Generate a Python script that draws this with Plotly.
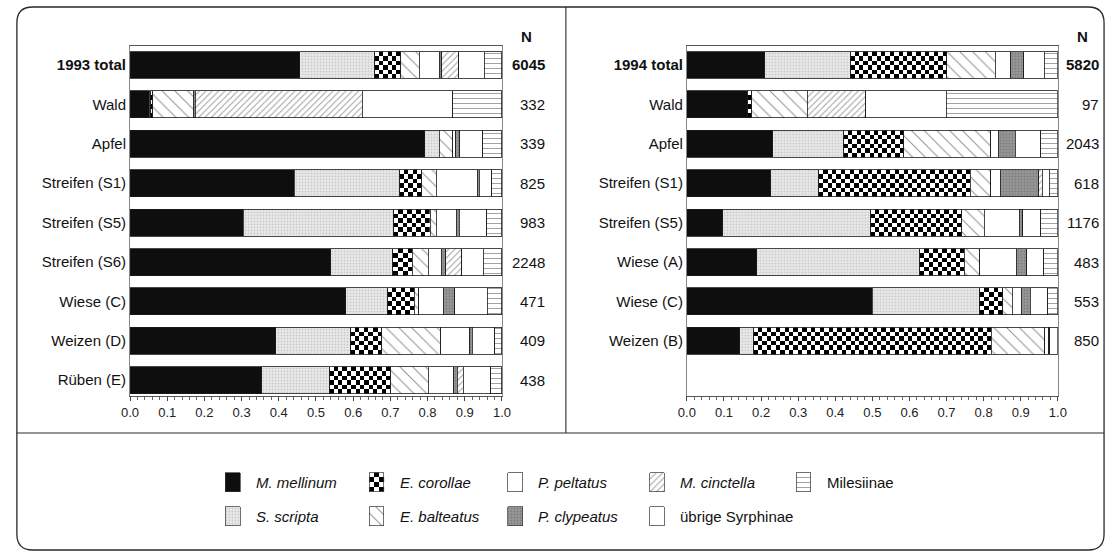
import plotly.graph_objects as go

# ---------------- data ----------------
species = ["M. mellinum", "S. scripta", "E. corollae", "E. balteatus", "P. peltatus",
           "P. clypeatus", "M. cinctella", "übrige Syrphinae", "Milesiinae"]

cats_1993 = ["1993 total", "Wald", "Apfel", "Streifen (S1)", "Streifen (S5)",
             "Streifen (S6)", "Wiese (C)", "Weizen (D)", "Rüben (E)"]
n_1993 = [6045, 332, 339, 825, 983, 2248, 471, 409, 438]

cats_1994 = ["1994 total", "Wald", "Apfel", "Streifen (S1)", "Streifen (S5)",
             "Wiese (A)", "Wiese (C)", "Weizen (B)"]
n_1994 = [5820, 97, 2043, 618, 1176, 483, 553, 850]

# shares (fraction of N) per species, one value per category row
mellinum_1993   = [0.456, 0.052, 0.792, 0.442, 0.305, 0.540, 0.580, 0.392, 0.354]
scripta_1993    = [0.202, 0.003, 0.040, 0.283, 0.404, 0.166, 0.112, 0.200, 0.182]
corollae_1993   = [0.070, 0.006, 0.000, 0.060, 0.098, 0.053, 0.072, 0.085, 0.165]
balteatus_1993  = [0.050, 0.109, 0.036, 0.038, 0.017, 0.043, 0.012, 0.158, 0.101]
peltatus_1993   = [0.053, 0.000, 0.008, 0.111, 0.053, 0.035, 0.066, 0.078, 0.069]
clypeatus_1993  = [0.007, 0.005, 0.010, 0.005, 0.008, 0.012, 0.031, 0.007, 0.009]
cinctella_1993  = [0.046, 0.450, 0.000, 0.000, 0.000, 0.043, 0.000, 0.000, 0.016]
uebrige_1993    = [0.069, 0.243, 0.062, 0.033, 0.074, 0.058, 0.087, 0.061, 0.074]
milesiinae_1993 = [0.047, 0.132, 0.052, 0.028, 0.041, 0.050, 0.040, 0.019, 0.030]

mellinum_1994   = [0.210, 0.163, 0.232, 0.226, 0.097, 0.189, 0.500, 0.142]
scripta_1994    = [0.230, 0.000, 0.191, 0.129, 0.398, 0.439, 0.288, 0.038]
corollae_1994   = [0.261, 0.012, 0.162, 0.409, 0.246, 0.120, 0.064, 0.641]
balteatus_1994  = [0.130, 0.150, 0.234, 0.055, 0.061, 0.041, 0.025, 0.144]
peltatus_1994   = [0.042, 0.000, 0.021, 0.026, 0.094, 0.099, 0.025, 0.011]
clypeatus_1994  = [0.035, 0.000, 0.045, 0.104, 0.010, 0.028, 0.023, 0.002]
cinctella_1994  = [0.000, 0.157, 0.000, 0.009, 0.000, 0.000, 0.000, 0.000]
uebrige_1994    = [0.055, 0.217, 0.069, 0.019, 0.048, 0.046, 0.048, 0.022]
milesiinae_1994 = [0.037, 0.301, 0.046, 0.023, 0.046, 0.038, 0.027, 0.000]

x_ticks = [0.0, 0.1, 0.2, 0.3, 0.4, 0.5, 0.6, 0.7, 0.8, 0.9, 1.0]

shares_1993 = [mellinum_1993, scripta_1993, corollae_1993, balteatus_1993, peltatus_1993,
               clypeatus_1993, cinctella_1993, uebrige_1993, milesiinae_1993]
shares_1994 = [mellinum_1994, scripta_1994, corollae_1994, balteatus_1994, peltatus_1994,
               clypeatus_1994, cinctella_1994, uebrige_1994, milesiinae_1994]

# ---------------- styles ----------------
W, H = 1117, 554
FONT = "Liberation Sans, Arial, Helvetica, sans-serif"
INK = "#111111"
LINE = dict(color="#1a1a1a", width=0.8)
BAR_W = 0.685         # bar thickness in row units
CHECK_ROWS = 6
CHECK_PX = 4.5

styles = {
    "M. mellinum": dict(color="#0e0e0e"),
    "S. scripta": dict(color="#e6e6e6", pattern=dict(shape=".", fgcolor="#a9a9a9", bgcolor="#e9e9e9", size=3, solidity=0.3)),
    "E. corollae": dict(color="rgba(0,0,0,0)"),
    "E. balteatus": dict(color="white", pattern=dict(shape="\\", fgcolor="#222222", bgcolor="white", size=9, solidity=0.11)),
    "P. peltatus": dict(color="white"),
    "P. clypeatus": dict(color="#8f8f8f", pattern=dict(shape=".", fgcolor="#5e5e5e", bgcolor="#989898", size=3, solidity=0.3)),
    "M. cinctella": dict(color="white", pattern=dict(shape="/", fgcolor="#444444", bgcolor="white", size=4.5, solidity=0.24)),
    "übrige Syrphinae": dict(color="white"),
    "Milesiinae": dict(color="white", pattern=dict(shape="-", fgcolor="#333333", bgcolor="white", size=5, solidity=0.18)),
}

# legend layout (px): column x of swatch, row y centre
legend_cols = [220, 366, 507, 651, 800]
legend_rows = [482, 516]
legend_pos = {
    "M. mellinum": (0, 0), "S. scripta": (0, 1),
    "E. corollae": (1, 0), "E. balteatus": (1, 1),
    "P. peltatus": (2, 0), "P. clypeatus": (2, 1),
    "M. cinctella": (3, 0), "übrige Syrphinae": (3, 1),
    "Milesiinae": (4, 0),
}
italic = {"M. mellinum", "S. scripta", "E. corollae", "E. balteatus", "P. peltatus",
          "P. clypeatus", "M. cinctella"}

fig = go.Figure()

left_px = (123, 501)
right_px = (689, 1066)
top_px, bot_px = 46, 396
y_range = [8.40, -0.482]


def checker(x0, x1, y0, y1, px_w, xa, ya, nrows):
    ncol = max(1, int(round(px_w / CHECK_PX)))
    xe = [x0 + (x1 - x0) * j / ncol for j in range(ncol + 1)]
    ye = [y0 + (y1 - y0) * j / nrows for j in range(nrows + 1)]
    z = [[(r + c) % 2 for c in range(ncol)] for r in range(nrows)]
    return go.Heatmap(x=xe, y=ye, z=z, colorscale=[[0, "white"], [1, "black"]],
                      zmin=0, zmax=1, showscale=False, hoverinfo="skip",
                      xaxis=xa, yaxis=ya, zsmooth=False)


def add_panel(cats, shares, xa, ya, px):
    rows = list(range(len(cats)))
    px_per_unit = px[1] - px[0]
    # checkerboard fill for E. corollae (heatmaps sit under the bar layer)
    for i in rows:
        w = shares[2][i]
        if w > 0:
            x0 = shares[0][i] + shares[1][i]
            fig.add_trace(checker(x0, x0 + w, i - BAR_W / 2, i + BAR_W / 2,
                                  w * px_per_unit, xa, ya, CHECK_ROWS))
    for k, name in enumerate(species):
        vals = [v if v > 0 else None for v in shares[k]]
        st = styles[name]
        marker = dict(color=st["color"], line=LINE)
        if "pattern" in st:
            marker["pattern"] = st["pattern"]
        fig.add_trace(go.Bar(y=rows, x=vals, orientation="h", width=BAR_W,
                             marker=marker, name=name, showlegend=False,
                             xaxis=xa, yaxis=ya, hoverinfo="x+name"))


add_panel(cats_1993, shares_1993, "x", "y", left_px)
add_panel(cats_1994, shares_1994, "x2", "y2", right_px)

# ---- legend drawn on a pixel-space overlay axis ----
SW_W, SW_H = 15, 19
for name in species:
    c, r = legend_pos[name]
    x0 = legend_cols[c]
    yc = legend_rows[r]
    st = styles[name]
    if name == "E. corollae":
        fig.add_trace(checker(x0, x0 + SW_W, yc - SW_H / 2, yc + SW_H / 2, SW_W, "x3", "y3", 4))
    marker = dict(color=st["color"], line=dict(color="#333333", width=0.7))
    if "pattern" in st:
        marker["pattern"] = st["pattern"]
    fig.add_trace(go.Bar(x=[x0 + SW_W / 2], y=[SW_H], base=[yc - SW_H / 2], width=[SW_W],
                         marker=marker, showlegend=False, hoverinfo="skip",
                         xaxis="x3", yaxis="y3"))
    label = f"<i>{name}</i>" if name in italic else name
    fig.add_annotation(x=x0 + SW_W + 14, y=yc, xref="x3", yref="y3", text=label,
                       showarrow=False, xanchor="left", yanchor="middle",
                       font=dict(family=FONT, size=15, color=INK))

# ---- N column ----
for xr, ns, ya, hx in [(547, n_1993, "y", 526), (1110, n_1994, "y2", 1091)]:
    fig.add_annotation(x=hx, y=36, xref="x3", yref="y3", text="<b>N</b>", showarrow=False,
                       xanchor="center", yanchor="middle", font=dict(family=FONT, size=15, color=INK))
    for i, n in enumerate(ns):
        t = f"<b>{n}</b>" if i == 0 else str(n)
        fig.add_annotation(x=xr, y=i, xref="x3", yref=ya, text=t, showarrow=False,
                           xanchor="right", yanchor="middle",
                           font=dict(family=FONT, size=15, color=INK))

# ---- frame ----
R = 16
L, T, Rt, B = 8, 7, 1113, 550
frame = (f"M{L+R},{T} L{Rt-R},{T} Q{Rt},{T} {Rt},{T+R} L{Rt},{B-R} Q{Rt},{B} {Rt-R},{B} "
         f"L{L+R},{B} Q{L},{B} {L},{B-R} L{L},{T+R} Q{L},{T} {L+R},{T} Z")
fig.add_shape(type="path", path=frame, xref="x3", yref="y3", line=dict(color="#2a2a2a", width=1.3))
fig.add_shape(type="line", x0=566, x1=566, y0=T, y1=433, xref="x3", yref="y3",
              line=dict(color="#2a2a2a", width=1.1))
fig.add_shape(type="line", x0=L, x1=Rt, y0=433, y1=433, xref="x3", yref="y3",
              line=dict(color="#2a2a2a", width=1.1))


def xaxis_cfg(px, anchor):
    return dict(domain=[px[0] / W, px[1] / W], range=[0, 1], anchor=anchor,
                tickvals=x_ticks, ticktext=[f"{v:.1f}" for v in x_ticks],
                ticks="outside", ticklen=4, tickwidth=1, tickcolor="#444",
                minor=dict(dtick=0.02, tick0=0, ticks="outside", ticklen=2.5, tickcolor="#666", tickwidth=0.8),
                showline=True, linecolor="#555", linewidth=1, mirror=True,
                showgrid=False, zeroline=False, fixedrange=True,
                tickfont=dict(family=FONT, size=13, color="#222"))


def yaxis_cfg(cats, anchor):
    txt = [f"<b>{c}</b>" if i == 0 else c for i, c in enumerate(cats)]
    return dict(domain=[1 - bot_px / H, 1 - top_px / H], range=y_range, anchor=anchor,
                tickvals=list(range(len(cats))), ticktext=txt, ticks="",
                showline=True, linecolor="#888", linewidth=1, mirror=True,
                showgrid=False, zeroline=False, fixedrange=True,
                tickfont=dict(family=FONT, size=15, color=INK))


fig.update_layout(
    width=W, height=H, margin=dict(l=0, r=0, t=0, b=0),
    paper_bgcolor="white", plot_bgcolor="rgba(0,0,0,0)",
    barmode="stack", showlegend=False,
    font=dict(family=FONT, color=INK),
    xaxis=xaxis_cfg(left_px, "y"),
    yaxis=yaxis_cfg(cats_1993, "x"),
    xaxis2=xaxis_cfg(right_px, "y2"),
    yaxis2=yaxis_cfg(cats_1994, "x2"),
    xaxis3=dict(domain=[0, 1], range=[0, W], visible=False, anchor="y3", fixedrange=True),
    yaxis3=dict(domain=[0, 1], range=[H, 0], visible=False, anchor="x3", fixedrange=True),
)

fig.write_html("out.html", config={"displayModeBar": False},
               post_script="document.body.style.margin='0';document.body.style.overflow='hidden';")
